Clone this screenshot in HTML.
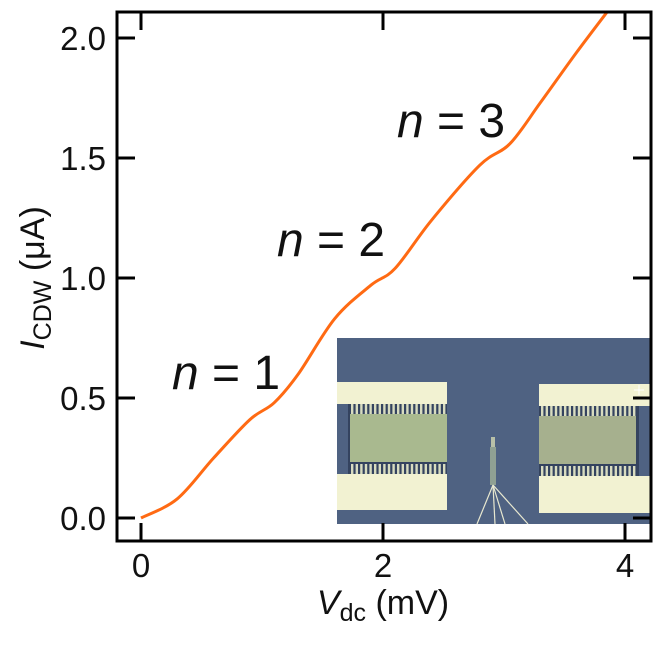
<!DOCTYPE html>
<html><head><meta charset="utf-8"><style>
body{margin:0;background:#fff;}
svg text{font-family:"Liberation Sans","DejaVu Sans",sans-serif;fill:#111;}
</style></head><body>
<svg id="chart" width="664" height="641" xmlns="http://www.w3.org/2000/svg">
<defs><clipPath id="plotclip"><rect x="117" y="12" width="534" height="529"/></clipPath></defs>
<g id="inset">
<rect x="337" y="338" width="314" height="186" fill="#4f6282"/>
<rect x="337" y="382" width="110" height="22" fill="#f2f2d2"/>
<rect x="337" y="474" width="110" height="36" fill="#f2f2d2"/>
<rect x="348" y="404" width="99" height="70" fill="#34435f"/>
<rect x="350" y="414" width="97" height="48" fill="#a9b98f"/>
<g id="combL"></g>
<rect x="539" y="384" width="112" height="22" fill="#f2f2d2"/>
<rect x="539" y="476" width="112" height="37" fill="#f2f2d2"/>
<rect x="539" y="406" width="100" height="70" fill="#34435f"/>
<rect x="539" y="416" width="97" height="48" fill="#a6b08e"/>
<g id="combR"></g>
<rect x="491" y="437" width="4" height="10" fill="#b8c0a8"/>
<rect x="490" y="447" width="6" height="38" fill="#8fa093"/>
<g stroke="#e8e8d0" stroke-width="1.2" fill="none">
<line x1="493" y1="485" x2="477" y2="524"/><line x1="493" y1="485" x2="495" y2="524"/>
<line x1="493" y1="485" x2="505" y2="524"/><line x1="493" y1="485" x2="528" y2="524"/>
</g>
<path d="M639 385v10M634 390h10" stroke="#fff" stroke-width="1"/>
</g>
<path id="curve" fill="none" stroke="#ff6a13" stroke-width="3" clip-path="url(#plotclip)"/>
<rect x="117" y="12" width="534" height="529" fill="none" stroke="#000" stroke-width="3"/>
<g id="ticks"></g>
<text x="172" y="389" font-size="48"><tspan font-style="italic">n</tspan> = 1</text>
<text x="277" y="256" font-size="48"><tspan font-style="italic">n</tspan> = 2</text>
<text x="397" y="137" font-size="48"><tspan font-style="italic">n</tspan> = 3</text>
<text x="383" y="614" font-size="34" text-anchor="middle"><tspan font-style="italic">V</tspan><tspan font-size="25" dy="7">dc</tspan><tspan dy="-7"> (mV)</tspan></text>
<text transform="translate(44,278) rotate(-90)" font-size="34" text-anchor="middle"><tspan font-style="italic">I</tspan><tspan font-size="25" dy="7">CDW</tspan><tspan dy="-7"> (μA)</tspan></text>
</svg>
<script>
const vdc = [0,0.3,0.6,0.9,1.1,1.3,1.6,1.9,2.1,2.4,2.8,3.05,3.3,3.6,3.9];
const icdw = [0,0.08,0.25,0.41,0.48,0.6,0.83,0.97,1.04,1.24,1.47,1.56,1.73,1.94,2.14];
const xTicks = [0,2,4];
const xTickLabels = ["0","2","4"];
const yTicks = [0,0.5,1.0,1.5,2.0];
const yTickLabels = ["0.0","0.5","1.0","1.5","2.0"];
const NS="http://www.w3.org/2000/svg";
function sx(v){return 141+v*121;}
function sy(v){return 518-v*240;}
const pts=vdc.map((v,i)=>[sx(v),sy(icdw[i])]);
let d="M"+pts[0][0]+" "+pts[0][1];
for(let i=0;i<pts.length-1;i++){
 const p0=pts[Math.max(0,i-1)],p1=pts[i],p2=pts[i+1],p3=pts[Math.min(pts.length-1,i+2)];
 const c1=[p1[0]+(p2[0]-p0[0])/6,p1[1]+(p2[1]-p0[1])/6];
 const c2=[p2[0]-(p3[0]-p1[0])/6,p2[1]-(p3[1]-p1[1])/6];
 d+=` C${c1[0]} ${c1[1]} ${c2[0]} ${c2[1]} ${p2[0]} ${p2[1]}`;
}
document.getElementById('curve').setAttribute('d',d);
const tg=document.getElementById('ticks');
function line(x1,y1,x2,y2){const l=document.createElementNS(NS,'line');l.setAttribute('x1',x1);l.setAttribute('y1',y1);l.setAttribute('x2',x2);l.setAttribute('y2',y2);l.setAttribute('stroke','#000');l.setAttribute('stroke-width','3');tg.appendChild(l);return l;}
xTicks.forEach((v,i)=>{
 const x=sx(v);
 const a=line(x,541,x,523);
 
 
 const b=line(x,12,x,30);
 
 
 const t=document.createElementNS(NS,'text');t.setAttribute('x',x);t.setAttribute('y',577);t.setAttribute('font-size','33');t.setAttribute('text-anchor','middle');t.textContent=xTickLabels[i];
 
 
 tg.appendChild(t);
});
yTicks.forEach((v,i)=>{
 const y=sy(v);
 const a=line(117,y,135,y);
 
 
 const b=line(651,y,633,y);
 
 
 const t=document.createElementNS(NS,'text');t.setAttribute('x',106);t.setAttribute('y',y+12);t.setAttribute('font-size','33');t.setAttribute('text-anchor','end');t.textContent=yTickLabels[i];
 
 
 tg.appendChild(t);
});
function comb(id,x0,x1,y1,y2){const g=document.getElementById(id);for(let x=x0;x<x1;x+=4.6){[y1,y2].forEach(y=>{const r=document.createElementNS(NS,'rect');r.setAttribute('x',x);r.setAttribute('y',y);r.setAttribute('width',2.4);r.setAttribute('height',10);r.setAttribute('fill','#d8dcc0');g.appendChild(r);});}}
comb('combL',351,447,404,464);
comb('combR',541,637,406,466);
</script>
</body></html>
